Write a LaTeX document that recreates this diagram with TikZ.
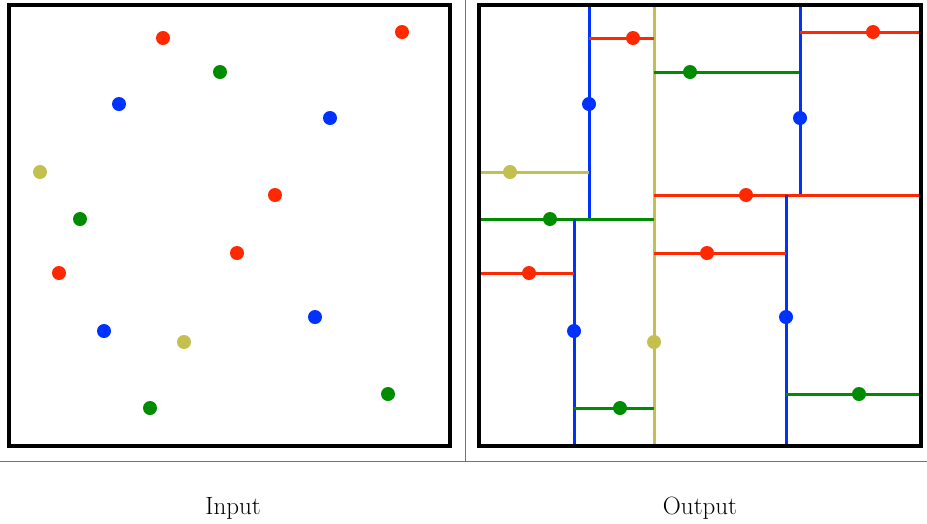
\documentclass[tikz,border=0pt]{standalone}
\definecolor{cred}{RGB}{255,40,0}
\definecolor{cblue}{RGB}{0,50,255}
\definecolor{cgreen}{RGB}{0,140,0}
\definecolor{cyel}{RGB}{196,192,80}
\begin{document}
\begin{tikzpicture}[x=1pt,y=-1pt,
  dot/.style={circle,fill=#1,draw=none,minimum size=14pt,inner sep=0pt},
  seg/.style={draw=#1,line width=3pt},
  frame/.style={draw=black,line width=4pt},
  sep/.style={draw=black!55,line width=1pt},
  lbl/.style={font=\fontsize{25}{30}\selectfont}]
\useasboundingbox[fill=white] (0,0) rectangle (927,523);
% separators
\draw[sep] (0,461) -- (927,461);
\draw[sep] (465,0) -- (465,461);
% left panel
\draw[frame] (9,5) rectangle (450,446);
\foreach \n/\c/\x/\y in {r1/cred/163/38, r2/cred/402/32, g1/cgreen/220/72, b1/cblue/119/104,
  b2/cblue/330/118, y1/cyel/40/172, r3/cred/275/195, g2/cgreen/80/219, r4/cred/237/253,
  r5/cred/59/273, b3/cblue/104/331, b4/cblue/315/317, y2/cyel/184/342, g3/cgreen/150/408,
  g4/cgreen/388/394}
  \node[dot=\c] (L\n) at (\x,\y) {};
% right panel
\begin{scope}[xshift=470]
\coordinate (TL) at (9,5); \coordinate (BR) at (451,446);
\draw[seg=cyel] (184,5) -- (184,446);
\draw[seg=cblue] (119,5) -- (119,219);
\draw[seg=cred] (119,38) -- (184,38);
\draw[seg=cyel] (9,172) -- (119,172);
\draw[seg=cgreen] (9,219) -- (184,219);
\draw[seg=cblue] (104,219) -- (104,446);
\draw[seg=cred] (9,273) -- (104,273);
\draw[seg=cgreen] (104,408) -- (184,408);
\draw[seg=cgreen] (184,72) -- (330,72);
\draw[seg=cblue] (330,5) -- (330,195);
\draw[seg=cred] (330,32) -- (451,32);
\draw[seg=cred] (184,195) -- (451,195);
\draw[seg=cblue] (316,195) -- (316,446);
\draw[seg=cred] (184,253) -- (316,253);
\draw[seg=cgreen] (316,394) -- (451,394);
\draw[frame] (TL) rectangle (BR);
\foreach \n/\c/\x/\y in {r1/cred/163/38, r2/cred/403/32, g1/cgreen/220/72, b1/cblue/119/104,
  b2/cblue/330/118, y1/cyel/40/172, r3/cred/276/195, g2/cgreen/80/219, r4/cred/237/253,
  r5/cred/59/273, b3/cblue/104/331, b4/cblue/316/317, y2/cyel/184/342, g3/cgreen/150/408,
  g4/cgreen/389/394}
  \node[dot=\c] (R\n) at (\x,\y) {};
\end{scope}
\node[lbl] (inp) at (233,508) {Input};
\node[lbl] (outp) at (700,508) {Output};
\end{tikzpicture}
\end{document}
